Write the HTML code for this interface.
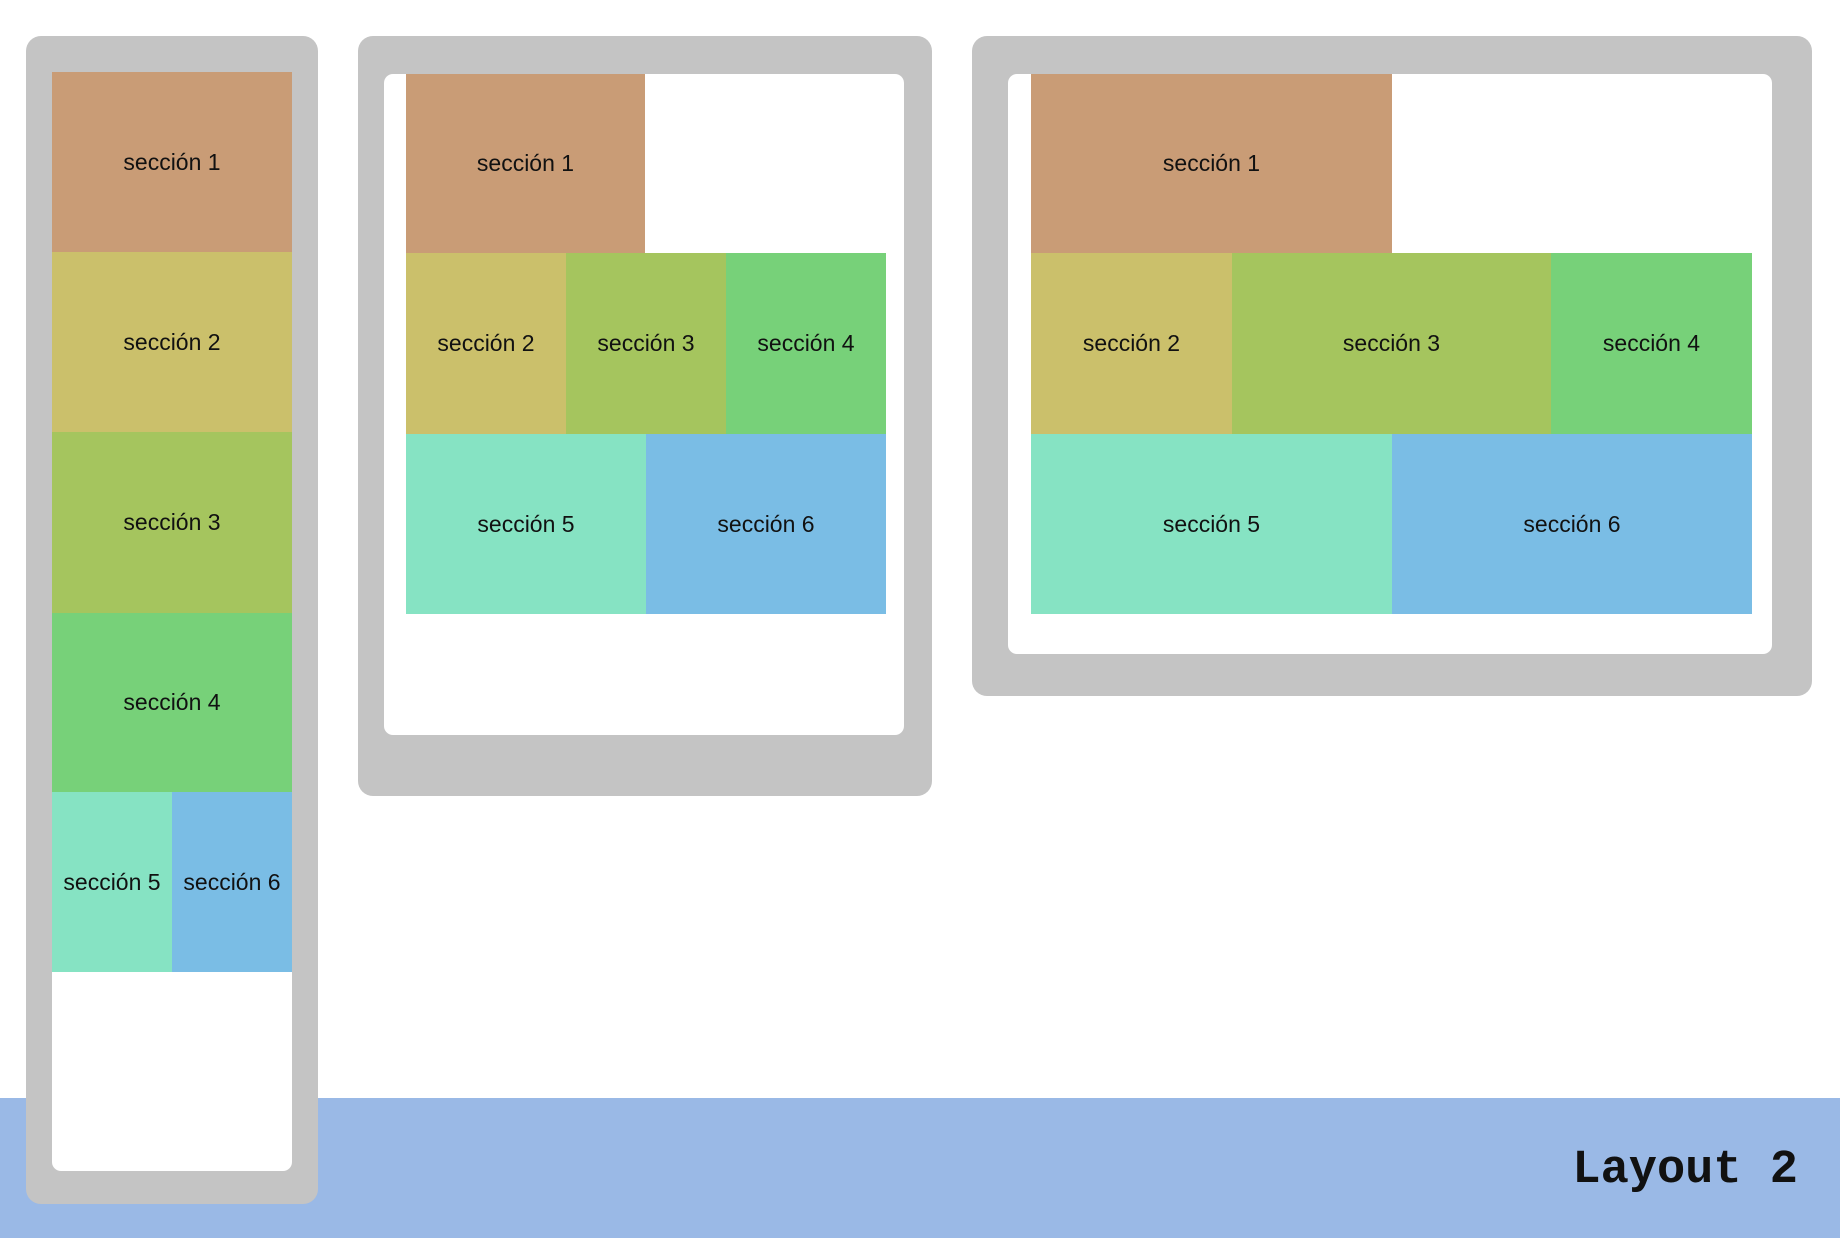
<!DOCTYPE html>
<html><head><meta charset="utf-8"><style>
html,body{margin:0;padding:0;width:1840px;height:1240px;background:#fff;overflow:hidden;position:relative;font-family:"Liberation Sans",sans-serif}
div{position:absolute;box-sizing:border-box}
.g{background:#c4c4c4;border-radius:15px}
.w{background:#fff;border-radius:9px}
.s{display:flex;align-items:center;justify-content:center;font-size:23px;color:#111;white-space:nowrap}
.c1{background:#c99c76}.c2{background:#cbc06b}.c3{background:#a5c55e}.c4{background:#77d179}.c5{background:#86e3c3}.c6{background:#7abde5}
</style></head><body>
<div style="left:0;top:1098px;width:1840px;height:140px;background:#9ab9e6"></div>
<div style="right:42px;top:1144px;font-family:'Liberation Mono',monospace;font-size:47px;font-weight:bold;color:#111">Layout 2</div>

<div class="g" style="left:26px;top:36px;width:292px;height:1168px"></div>
<div class="w" style="left:52px;top:72px;width:240px;height:1099px"></div>
<div class="s c1" style="left:52px;top:72px;width:240px;height:180px">sección 1</div>
<div class="s c2" style="left:52px;top:252px;width:240px;height:180px">sección 2</div>
<div class="s c3" style="left:52px;top:432px;width:240px;height:181px">sección 3</div>
<div class="s c4" style="left:52px;top:613px;width:240px;height:179px">sección 4</div>
<div class="s c5" style="left:52px;top:792px;width:120px;height:180px">sección 5</div>
<div class="s c6" style="left:172px;top:792px;width:120px;height:180px">sección 6</div>

<div class="g" style="left:358px;top:36px;width:574px;height:760px"></div>
<div class="w" style="left:384px;top:74px;width:520px;height:661px"></div>
<div class="s c1" style="left:406px;top:74px;width:239px;height:179px">sección 1</div>
<div class="s c2" style="left:406px;top:253px;width:160px;height:181px">sección 2</div>
<div class="s c3" style="left:566px;top:253px;width:160px;height:181px">sección 3</div>
<div class="s c4" style="left:726px;top:253px;width:160px;height:181px">sección 4</div>
<div class="s c5" style="left:406px;top:434px;width:240px;height:180px">sección 5</div>
<div class="s c6" style="left:646px;top:434px;width:240px;height:180px">sección 6</div>

<div class="g" style="left:972px;top:36px;width:840px;height:660px"></div>
<div class="w" style="left:1008px;top:74px;width:764px;height:580px"></div>
<div class="s c1" style="left:1031px;top:74px;width:361px;height:179px">sección 1</div>
<div class="s c2" style="left:1031px;top:253px;width:201px;height:181px">sección 2</div>
<div class="s c3" style="left:1232px;top:253px;width:319px;height:181px">sección 3</div>
<div class="s c4" style="left:1551px;top:253px;width:201px;height:181px">sección 4</div>
<div class="s c5" style="left:1031px;top:434px;width:361px;height:180px">sección 5</div>
<div class="s c6" style="left:1392px;top:434px;width:360px;height:180px">sección 6</div>
</body></html>
